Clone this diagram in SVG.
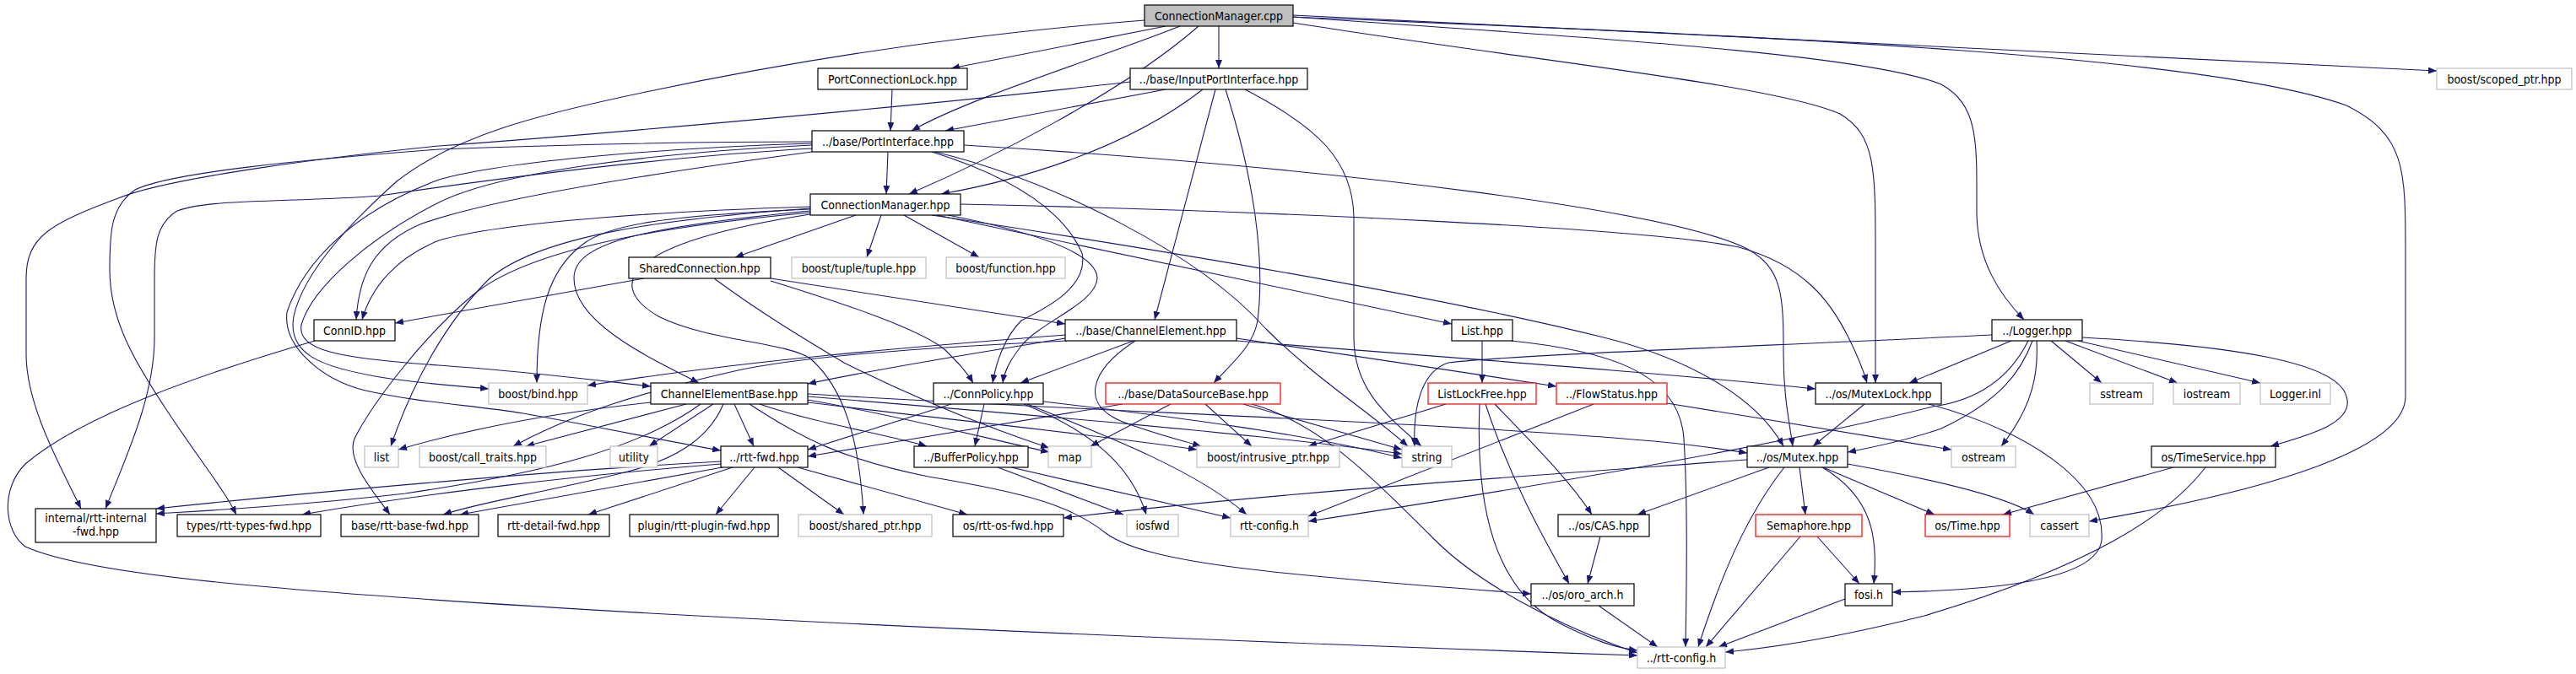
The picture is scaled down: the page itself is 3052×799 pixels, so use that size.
<svg xmlns="http://www.w3.org/2000/svg" width="3052" height="799" viewBox="0 0 3052 799">
<defs>
<marker id="a" markerWidth="10" markerHeight="8" refX="10" refY="4" orient="auto" markerUnits="userSpaceOnUse"><path d="M0,0 L10,4 L0,8 z" fill="#191970"/></marker>
</defs>
<style>
.node rect{fill:#fff;stroke:#000;stroke-width:1.2}
.node.g rect{stroke:#bfbfbf}
.node.r rect{stroke:#ff0000}
.node.root rect{fill:#bfbfbf}
.node text{font-family:'DejaVu Sans Condensed','DejaVu Sans',sans-serif;font-stretch:condensed;font-size:14px;text-anchor:middle;fill:#000}
#edges path{fill:none;stroke:#191970;stroke-width:1.1;marker-end:url(#a)}
</style>
<rect width="3052" height="799" fill="#fff"/>
<g id="edges">
<path d="M1381,31 L1127,81"/>
<path d="M1444,31 L1444,81"/>
<path d="M1398,31 C1300,70 1150,115 1080,155"/>
<path d="M1420,31 C1330,110 1170,190 1077,230"/>
<path d="M1356,24 C1150,40 950,70 770,108 C640,135 540,160 470,215 C420,260 360,320 348,375 C340,420 380,435 450,447 C500,455 540,457 579,461"/>
<path d="M1532,18 L2887,84"/>
<path d="M1532,20 C1800,40 2200,60 2300,100 C2345,125 2342,170 2342,250 C2342,310 2370,350 2398,379"/>
<path d="M1532,20 C2000,40 2600,60 2780,125 C2850,160 2850,200 2850,300 L2850,470 C2850,530 2700,580 2475,618"/>
<path d="M1532,27 C1800,70 2100,100 2180,135 C2222,160 2222,200 2222,300 L2222,454"/>
<path d="M1057,106 L1055,155"/>
<path d="M1381,106 L1120,155"/>
<path d="M1425,106 C1330,180 1200,215 1115,230"/>
<path d="M1440,106 L1368,379"/>
<path d="M1452,106 C1482,200 1500,300 1490,380 C1485,410 1460,430 1438,454"/>
<path d="M1475,106 C1560,150 1604,190 1604,260 L1604,400 C1604,460 1640,490 1684,529"/>
<path d="M1339,97 C1100,125 700,160 520,173 C400,185 200,210 140,235 C60,265 31,280 31,330 L31,420 C31,480 70,550 96,603"/>
<path d="M1052,180 L1050,230"/>
<path d="M962,180 C850,195 600,230 500,265 C440,290 425,330 422,379"/>
<path d="M962,172 C800,180 600,200 520,240 C440,280 370,340 357,385 C352,415 400,425 520,433 C620,440 700,450 771,458"/>
<path d="M962,170 C800,175 600,190 520,213 C420,250 360,310 340,370 C335,410 380,450 433,463 C500,478 560,480 620,490 C720,508 800,525 854,534"/>
<path d="M962,168 C800,168 650,172 520,177 C350,190 200,205 160,225 C130,245 130,280 130,320 C130,380 160,430 200,490 C240,550 265,580 280,610"/>
<path d="M962,176 C800,185 600,210 450,232 C350,240 250,235 210,250 C185,265 183,290 183,330 L183,400 C183,470 150,540 125,603"/>
<path d="M1104,180 C1200,210 1260,250 1282,300 C1290,340 1240,365 1210,380 C1190,400 1180,430 1176,454"/>
<path d="M1108,180 C1250,215 1420,300 1500,390 C1560,450 1625,490 1668,529"/>
<path d="M1142,172 C1600,200 1980,250 2070,295 C2112,318 2113,350 2113,420 C2113,470 2120,500 2124,529"/>
<path d="M1014,255 L871,305"/>
<path d="M1044,255 L1027,305"/>
<path d="M1071,255 L1160,305"/>
<path d="M960,245 C800,250 600,262 520,285 C470,305 440,340 429,379"/>
<path d="M960,248 C800,255 720,265 690,290 C650,320 636,370 636,454"/>
<path d="M960,250 C750,270 680,290 680,330 C680,380 760,420 828,454"/>
<path d="M960,247 C780,260 640,280 580,330 C530,380 490,450 463,529"/>
<path d="M960,252 C760,270 620,300 560,350 C500,400 440,480 420,520 C410,545 440,580 462,610"/>
<path d="M960,254 C730,290 720,340 780,375 C840,405 930,405 960,425 C1000,460 1018,520 1023,610"/>
<path d="M1123,255 C1250,280 1300,305 1300,330 C1298,360 1235,380 1210,410 C1196,428 1190,440 1188,454"/>
<path d="M1110,255 L1720,384"/>
<path d="M1138,242 C1500,250 1950,270 2060,293 C2140,315 2170,360 2190,400 C2200,420 2208,440 2212,454"/>
<path d="M1104,255 C1400,300 1700,350 1900,400 C2000,425 2080,470 2113,529"/>
<path d="M763,330 L468,383"/>
<path d="M913,330 L1262,384"/>
<path d="M913,333 C1000,360 1090,390 1120,415 C1135,430 1145,440 1153,454"/>
<path d="M846,330 C900,370 950,400 1000,430 C1100,480 1180,510 1243,531"/>
<path d="M373,404 C250,440 100,490 30,550 C0,580 5,630 30,648 C100,680 300,700 770,727 C1100,745 1500,762 1940,777"/>
<path d="M1262,397 C1100,410 900,425 696,457"/>
<path d="M1262,401 C1150,420 1050,435 957,455"/>
<path d="M1264,404 C1100,412 950,422 870,440 C760,465 680,490 608,529"/>
<path d="M1343,404 L1209,454"/>
<path d="M1345,404 C1290,440 1280,480 1330,500 C1370,515 1400,522 1423,529"/>
<path d="M1465,401 L1844,458"/>
<path d="M1465,404 C1800,430 2000,445 2151,461"/>
<path d="M1756,404 L1756,454"/>
<path d="M1790,404 C1900,415 1990,440 1995,520 C2000,600 1998,700 1997,767"/>
<path d="M2360,397 C2100,410 1800,420 1716,430 C1685,440 1674,480 1676,529"/>
<path d="M2383,404 L2262,454"/>
<path d="M2408,404 C2395,440 2370,475 2300,508 C2260,522 2220,530 2189,536"/>
<path d="M2403,404 C2380,450 2340,475 2290,482 C2100,530 1800,580 1550,618"/>
<path d="M2413,404 C2415,440 2410,480 2371,529"/>
<path d="M2430,404 L2490,454"/>
<path d="M2447,404 L2580,454"/>
<path d="M2462,404 L2678,454"/>
<path d="M2467,400 C2650,410 2770,430 2780,470 C2790,500 2740,515 2690,529"/>
<path d="M771,477 C650,490 550,510 472,533"/>
<path d="M813,479 L623,529"/>
<path d="M845,479 L769,529"/>
<path d="M870,479 L893,529"/>
<path d="M857,479 C840,520 800,545 740,560 C640,585 570,595 525,610"/>
<path d="M900,479 C960,500 1050,515 1098,529"/>
<path d="M957,474 C1050,490 1150,515 1243,536"/>
<path d="M957,477 C1100,495 1300,515 1418,533"/>
<path d="M957,470 C1200,490 1500,515 1661,538"/>
<path d="M957,467 C1300,488 1700,500 1960,523 C2000,527 2040,532 2070,537"/>
<path d="M888,479 C950,520 1000,545 1100,565 C1220,585 1270,600 1310,632 C1360,668 1500,680 1814,704"/>
<path d="M830,479 C760,530 650,560 480,585 C350,600 250,605 185,609"/>
<path d="M1127,479 L957,533"/>
<path d="M1166,479 L1155,529"/>
<path d="M1236,476 C1400,495 1550,515 1661,543"/>
<path d="M1213,479 C1290,510 1340,550 1358,610"/>
<path d="M1217,479 C1320,520 1420,560 1477,610"/>
<path d="M1330,479 L957,541"/>
<path d="M1387,479 L1292,529"/>
<path d="M1428,479 L1483,529"/>
<path d="M1473,479 L1661,533"/>
<path d="M1483,479 C1560,500 1620,560 1700,640 C1750,690 1840,740 1940,774"/>
<path d="M1713,479 L1550,529"/>
<path d="M1753,479 C1748,600 1770,700 1850,740 C1890,760 1915,768 1940,771"/>
<path d="M1760,479 C1790,570 1830,640 1859,692"/>
<path d="M1771,479 C1820,530 1860,570 1886,610"/>
<path d="M1888,479 L1550,612"/>
<path d="M1975,478 L2312,533"/>
<path d="M2209,479 L2148,529"/>
<path d="M2285,479 C2400,510 2495,570 2490,640 C2485,690 2350,700 2242,702"/>
<path d="M854,547 C700,555 400,580 185,603"/>
<path d="M854,550 C700,562 500,585 358,610"/>
<path d="M856,554 L545,610"/>
<path d="M868,554 L697,610"/>
<path d="M894,554 L848,610"/>
<path d="M922,554 L1000,610"/>
<path d="M945,554 L1146,610"/>
<path d="M1182,554 L1331,610"/>
<path d="M1198,554 L1458,614"/>
<path d="M2070,545 C1800,565 1500,585 1260,614"/>
<path d="M2096,554 L1940,610"/>
<path d="M2132,554 L2139,610"/>
<path d="M2160,554 L2292,610"/>
<path d="M2189,550 C2300,570 2380,590 2410,610"/>
<path d="M2159,554 C2220,590 2225,640 2220,692"/>
<path d="M2114,554 C2070,610 2040,680 2012,767"/>
<path d="M1896,636 L1881,692"/>
<path d="M2153,636 L2203,692"/>
<path d="M2133,636 L2021,767"/>
<path d="M2575,554 L2373,610"/>
<path d="M2613,554 C2570,610 2480,670 2280,730 C2180,755 2100,768 2044,773"/>
<path d="M1894,718 L1964,767"/>
<path d="M2186,710 L2036,767"/>
</g>
<g id="n0" class="node root"><rect x="1356" y="6" width="176" height="25"/><text x="1444" y="23.5">ConnectionManager.cpp</text></g>
<g id="n1" class="node"><rect x="969" y="81" width="177" height="25"/><text x="1057.5" y="98.5">PortConnectionLock.hpp</text></g>
<g id="n2" class="node"><rect x="1339" y="81" width="210" height="25"/><text x="1444" y="98.5">../base/InputPortInterface.hpp</text></g>
<g id="n3" class="node g"><rect x="2887" y="81" width="160" height="25"/><text x="2967" y="98.5">boost/scoped_ptr.hpp</text></g>
<g id="n4" class="node"><rect x="962" y="155" width="180" height="25"/><text x="1052" y="172.5">../base/PortInterface.hpp</text></g>
<g id="n5" class="node"><rect x="960" y="230" width="178" height="25"/><text x="1049" y="247.5">ConnectionManager.hpp</text></g>
<g id="n6" class="node"><rect x="745" y="305" width="168" height="25"/><text x="829" y="322.5">SharedConnection.hpp</text></g>
<g id="n7" class="node g"><rect x="938" y="305" width="159" height="25"/><text x="1017.5" y="322.5">boost/tuple/tuple.hpp</text></g>
<g id="n8" class="node g"><rect x="1121" y="305" width="141" height="25"/><text x="1191.5" y="322.5">boost/function.hpp</text></g>
<g id="n9" class="node"><rect x="372" y="379" width="96" height="25"/><text x="420" y="396.5">ConnID.hpp</text></g>
<g id="n10" class="node"><rect x="1262" y="379" width="203" height="25"/><text x="1363.5" y="396.5">../base/ChannelElement.hpp</text></g>
<g id="n11" class="node"><rect x="1720" y="379" width="72" height="25"/><text x="1756" y="396.5">List.hpp</text></g>
<g id="n12" class="node"><rect x="2360" y="379" width="107" height="25"/><text x="2413.5" y="396.5">../Logger.hpp</text></g>
<g id="n13" class="node g"><rect x="579" y="454" width="117" height="25"/><text x="637.5" y="471.5">boost/bind.hpp</text></g>
<g id="n14" class="node"><rect x="771" y="454" width="186" height="25"/><text x="864" y="471.5">ChannelElementBase.hpp</text></g>
<g id="n15" class="node"><rect x="1106" y="454" width="130" height="25"/><text x="1171" y="471.5">../ConnPolicy.hpp</text></g>
<g id="n16" class="node r"><rect x="1310" y="454" width="207" height="25"/><text x="1413.5" y="471.5">../base/DataSourceBase.hpp</text></g>
<g id="n17" class="node r"><rect x="1692" y="454" width="128" height="25"/><text x="1756" y="471.5">ListLockFree.hpp</text></g>
<g id="n18" class="node r"><rect x="1844" y="454" width="131" height="25"/><text x="1909.5" y="471.5">../FlowStatus.hpp</text></g>
<g id="n19" class="node"><rect x="2151" y="454" width="149" height="25"/><text x="2225.5" y="471.5">../os/MutexLock.hpp</text></g>
<g id="n20" class="node g"><rect x="2476" y="454" width="75" height="25"/><text x="2513.5" y="471.5">sstream</text></g>
<g id="n21" class="node g"><rect x="2575" y="454" width="79" height="25"/><text x="2614.5" y="471.5">iostream</text></g>
<g id="n22" class="node g"><rect x="2678" y="454" width="83" height="25"/><text x="2719.5" y="471.5">Logger.inl</text></g>
<g id="n23" class="node g"><rect x="432" y="529" width="40" height="25"/><text x="452" y="546.5">list</text></g>
<g id="n24" class="node g"><rect x="497" y="529" width="150" height="25"/><text x="572" y="546.5">boost/call_traits.hpp</text></g>
<g id="n25" class="node g"><rect x="723" y="529" width="56" height="25"/><text x="751" y="546.5">utility</text></g>
<g id="n26" class="node"><rect x="854" y="529" width="103" height="25"/><text x="905.5" y="546.5">../rtt-fwd.hpp</text></g>
<g id="n27" class="node"><rect x="1083" y="529" width="135" height="25"/><text x="1150.5" y="546.5">../BufferPolicy.hpp</text></g>
<g id="n28" class="node g"><rect x="1242" y="529" width="51" height="25"/><text x="1267.5" y="546.5">map</text></g>
<g id="n29" class="node g"><rect x="1418" y="529" width="169" height="25"/><text x="1502.5" y="546.5">boost/intrusive_ptr.hpp</text></g>
<g id="n30" class="node g"><rect x="1661" y="529" width="59" height="25"/><text x="1690.5" y="546.5">string</text></g>
<g id="n31" class="node"><rect x="2070" y="529" width="119" height="25"/><text x="2129.5" y="546.5">../os/Mutex.hpp</text></g>
<g id="n32" class="node g"><rect x="2312" y="529" width="76" height="25"/><text x="2350" y="546.5">ostream</text></g>
<g id="n33" class="node"><rect x="2549" y="529" width="147" height="25"/><text x="2622.5" y="546.5">os/TimeService.hpp</text></g>
<g id="n34" class="node"><rect x="42" y="603" width="143" height="40"/><text x="113.5" y="619">internal/rtt-internal</text><text x="113.5" y="635">-fwd.hpp</text></g>
<g id="n35" class="node"><rect x="210" y="610" width="170" height="26"/><text x="295" y="627.5">types/rtt-types-fwd.hpp</text></g>
<g id="n36" class="node"><rect x="404" y="610" width="163" height="26"/><text x="485.5" y="627.5">base/rtt-base-fwd.hpp</text></g>
<g id="n37" class="node"><rect x="590" y="610" width="132" height="26"/><text x="656" y="627.5">rtt-detail-fwd.hpp</text></g>
<g id="n38" class="node"><rect x="746" y="610" width="176" height="26"/><text x="834" y="627.5">plugin/rtt-plugin-fwd.hpp</text></g>
<g id="n39" class="node g"><rect x="946" y="610" width="158" height="26"/><text x="1025" y="627.5">boost/shared_ptr.hpp</text></g>
<g id="n40" class="node"><rect x="1129" y="610" width="131" height="26"/><text x="1194.5" y="627.5">os/rtt-os-fwd.hpp</text></g>
<g id="n41" class="node g"><rect x="1335" y="610" width="61" height="26"/><text x="1365.5" y="627.5">iosfwd</text></g>
<g id="n42" class="node g"><rect x="1458" y="610" width="92" height="26"/><text x="1504" y="627.5">rtt-config.h</text></g>
<g id="n43" class="node"><rect x="1846" y="610" width="108" height="26"/><text x="1900" y="627.5">../os/CAS.hpp</text></g>
<g id="n44" class="node r"><rect x="2080" y="610" width="126" height="26"/><text x="2143" y="627.5">Semaphore.hpp</text></g>
<g id="n45" class="node r"><rect x="2281" y="610" width="100" height="26"/><text x="2331" y="627.5">os/Time.hpp</text></g>
<g id="n46" class="node g"><rect x="2405" y="610" width="70" height="26"/><text x="2440" y="627.5">cassert</text></g>
<g id="n47" class="node"><rect x="1814" y="692" width="122" height="26"/><text x="1875" y="709.5">../os/oro_arch.h</text></g>
<g id="n48" class="node"><rect x="2186" y="692" width="56" height="26"/><text x="2214" y="709.5">fosi.h</text></g>
<g id="n49" class="node g"><rect x="1940" y="767" width="104" height="25"/><text x="1992" y="784.5">../rtt-config.h</text></g>
</svg>
